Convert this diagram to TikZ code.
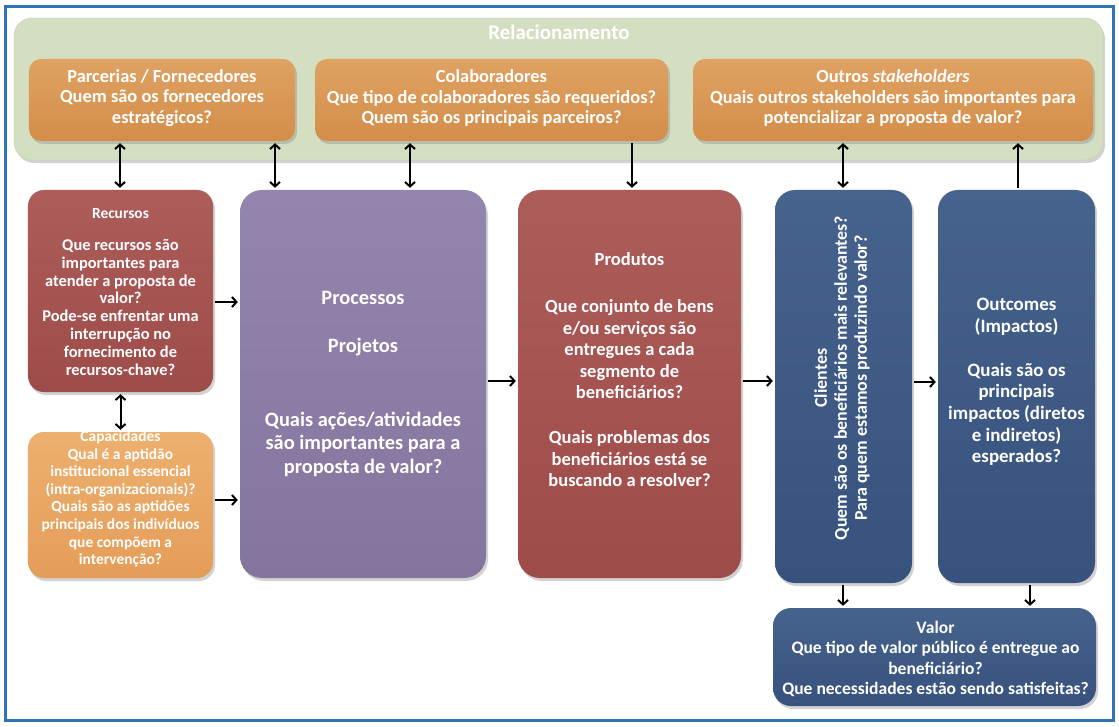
\documentclass[tikz,border=0pt]{standalone}
\usepackage{fontspec}
\setmainfont{Carlito}
\usetikzlibrary{arrows.meta,shadows}
\definecolor{frameblue}{HTML}{2E74B5}
\definecolor{relgreen}{HTML}{D4DEC1}
\definecolor{relline}{HTML}{C2CFAA}
\definecolor{orangeT}{HTML}{DFA263}
\definecolor{orangeB}{HTML}{D38D48}
\definecolor{capT}{HTML}{EDB06F}
\definecolor{capB}{HTML}{E49D58}
\definecolor{redT}{HTML}{AC5C59}
\definecolor{redB}{HTML}{9E4C49}
\definecolor{purT}{HTML}{9385AD}
\definecolor{purB}{HTML}{84759F}
\definecolor{navT}{HTML}{46638D}
\definecolor{navB}{HTML}{37527C}
\tikzset{
  box/.style={rounded corners=16bp, inner sep=0pt, draw=none,
    drop shadow={shadow xshift=2bp, shadow yshift=-3bp, opacity=0.35}},
  txt/.style={text=white, align=center, inner sep=0pt, font=\bfseries},
  arr/.style={line width=2bp, draw=black, shorten <=2bp, shorten >=2bp},
  >={Straight Barb[length=4.5bp,width=10bp]}
}
\begin{document}
\begin{tikzpicture}[x=1bp,y=-1bp]
\useasboundingbox (0,0) rectangle (1119,727);
\fill[white] (0,0) rectangle (1119,727);
% frame
\node[draw=frameblue, line width=3bp, minimum width=1107bp, minimum height=713bp, inner sep=0pt] (frame) at (559.5,363.5) {};
% relacionamento
\node[box, rounded corners=18bp, fill=relgreen, draw=relline, minimum width=1089bp, minimum height=142bp] (rel) at (558.5,89) {};
\node[txt, font=\bfseries\fontsize{21}{24}\selectfont] (reltitle) at (559,32) {Relacionamento};
% top orange boxes
\node[box, rounded corners=12bp, top color=orangeT, bottom color=orangeB, minimum width=266bp, minimum height=82bp] (parc) at (162,100) {};
\node[box, rounded corners=12bp, top color=orangeT, bottom color=orangeB, minimum width=353bp, minimum height=82bp] (colab) at (491.5,100) {};
\node[box, rounded corners=12bp, top color=orangeT, bottom color=orangeB, minimum width=400bp, minimum height=82bp] (outros) at (893,100) {};
\node[txt, font=\bfseries\fontsize{18.5}{20.8}\selectfont] (parctxt) at (162,98) {Parcerias / Fornecedores\\Quem são os fornecedores\\estratégicos?};
\node[txt, font=\bfseries\fontsize{18.5}{20.8}\selectfont] (colabtxt) at (491.5,98) {Colaboradores\\Que tipo de colaboradores são requeridos?\\Quem são os principais parceiros?};
\node[txt, font=\bfseries\fontsize{18.5}{20.8}\selectfont] (outrostxt) at (893,98) {Outros \textit{stakeholders}\\Quais outros stakeholders são importantes para\\potencializar a proposta de valor?};
% middle boxes
\node[box, top color=redT, bottom color=redB, minimum width=185bp, minimum height=202bp] (rec) at (120.5,291) {};
\node[box, top color=capT, bottom color=capB, minimum width=185bp, minimum height=146bp] (cap) at (120.5,505) {};
\node[box, rounded corners=22bp, top color=purT, bottom color=purB, minimum width=246bp, minimum height=388bp] (proc) at (363,384) {};
\node[box, rounded corners=22bp, top color=redT, bottom color=redB, minimum width=223bp, minimum height=388bp] (prod) at (629.5,384) {};
\node[box, rounded corners=20bp, top color=navT, bottom color=navB, minimum width=137bp, minimum height=393bp] (cli) at (843.5,386.5) {};
\node[box, rounded corners=20bp, top color=navT, bottom color=navB, minimum width=157bp, minimum height=393bp] (outc) at (1016.5,386.5) {};
\node[box, rounded corners=18bp, top color=navT, bottom color=navB, minimum width=323bp, minimum height=98bp] (valor) at (934.5,657) {};
% texts
\node[txt, font=\bfseries\fontsize{16.5}{18}\selectfont] (rectxt) at (120.5,292) {{\fontsize{15.5}{18}\selectfont Recursos}\\[14bp]Que recursos são\\importantes para\\atender a proposta de\\valor?\\Pode-se enfrentar uma\\interrupção no\\fornecimento de\\recursos-chave?};
\node[txt, font=\bfseries\fontsize{15.5}{17.7}\selectfont] (captxt) at (120.5,499) {Capacidades\\Qual é a aptidão\\institucional essencial\\(intra-organizacionais)?\\Quais são as aptidões\\principais dos indivíduos\\que compõem a\\intervenção?};
\node[txt, font=\bfseries\fontsize{20.5}{24}\selectfont] (proctxt) at (363,384) {Processos\\[24bp]Projetos\\[50bp]Quais ações/atividades\\são importantes para a\\proposta de valor?};
\node[txt, font=\bfseries\fontsize{18.6}{21.6}\selectfont] (prodtxt) at (629.5,370) {Produtos\\[25.4bp]Que conjunto de bens\\e/ou serviços são\\entregues a cada\\segmento de\\beneficiários?\\[23.4bp]Quais problemas dos\\beneficiários está se\\buscando a resolver?};
\node[txt, rotate=90, font=\bfseries\fontsize{18}{20}\selectfont] (clitxt) at (842,378) {Clientes\\Quem são os beneficiários mais relevantes?\\Para quem estamos produzindo valor?};
\node[txt, font=\bfseries\fontsize{19}{21.7}\selectfont] (outctxt) at (1016.5,382) {Outcomes\\(Impactos)\\[22.3bp]Quais são os\\principais\\impactos (diretos\\e indiretos)\\esperados?};
\node[txt, font=\bfseries\fontsize{17.6}{20.7}\selectfont] (valortxt) at (935.5,659) {Valor\\Que tipo de valor público é entregue ao\\beneficiário?\\Que necessidades estão sendo satisfeitas?};
% arrows top
\draw[arr,<->] (parc.south -| 120,0) -- (rec.north -| 120,0);
\draw[arr,<->] (parc.south -| 275,0) -- (proc.north -| 275,0);
\draw[arr,<->] (colab.south -| 410,0) -- (proc.north -| 410,0);
\draw[arr,->] (colab.south -| 632,0) -- (prod.north -| 632,0);
\draw[arr,<->] (outros.south -| 843,0) -- (cli.north -| 843,0);
\draw[arr,->] (outc.north -| 1018,0) -- (outros.south -| 1018,0);
% arrows middle
\draw[arr,<->] (rec.south) -- (cap.north);
\draw[arr,->] (rec.east |- 0,302) -- (proc.west |- 0,302);
\draw[arr,->] (cap.east |- 0,500) -- (proc.west |- 0,500);
\draw[arr,->] (proc.east |- 0,381) -- (prod.west |- 0,381);
\draw[arr,->] (prod.east |- 0,381) -- (cli.west |- 0,381);
\draw[arr,->] (cli.east |- 0,382) -- (outc.west |- 0,382);
% arrows bottom
\draw[arr,->] (cli.south -| 843,0) -- (valor.north -| 843,0);
\draw[arr,->] (outc.south -| 1030,0) -- (valor.north -| 1030,0);
\end{tikzpicture}
\end{document}
